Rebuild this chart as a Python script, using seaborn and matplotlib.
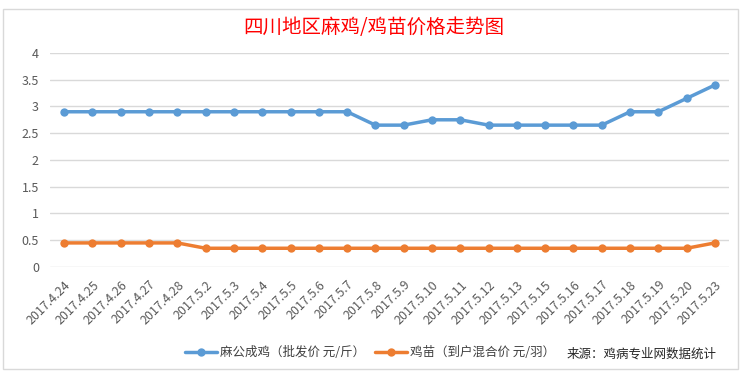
import pandas as pd
import matplotlib
matplotlib.use('Agg')
import matplotlib.pyplot as plt
import seaborn as sns

dates = ['2017.4.24', '2017.4.25', '2017.4.26', '2017.4.27', '2017.4.28',
         '2017.5.2', '2017.5.3', '2017.5.4', '2017.5.5', '2017.5.6', '2017.5.7',
         '2017.5.8', '2017.5.9', '2017.5.10', '2017.5.11', '2017.5.12', '2017.5.13',
         '2017.5.15', '2017.5.16', '2017.5.17', '2017.5.18', '2017.5.19', '2017.5.20',
         '2017.5.23']
chicken = [2.9, 2.9, 2.9, 2.9, 2.9, 2.9, 2.9, 2.9, 2.9, 2.9, 2.9,
           2.65, 2.65, 2.75, 2.75, 2.65, 2.65, 2.65, 2.65, 2.65, 2.9, 2.9, 3.15, 3.4]
chick = [0.45, 0.45, 0.45, 0.45, 0.45, 0.35, 0.35, 0.35, 0.35, 0.35, 0.35,
         0.35, 0.35, 0.35, 0.35, 0.35, 0.35, 0.35, 0.35, 0.35, 0.35, 0.35, 0.35, 0.45]
series_names = ['麻公成鸡（批发价 元/斤）', '鸡苗（到户混合价 元/羽）']
colors = ['#5b9bd5', '#ed7d31']

df = pd.concat([
    pd.DataFrame({'date': dates, 'price': chicken, 'series': series_names[0]}),
    pd.DataFrame({'date': dates, 'price': chick, 'series': series_names[1]}),
])

sns.set_style('white')
plt.rcParams['font.family'] = ['Noto Sans CJK SC', 'DejaVu Sans']

fig = plt.figure(figsize=(7.47, 3.75), dpi=100)
ax = fig.add_axes([0.067, 0.288, 0.909, 0.571])

sns.lineplot(data=df, x='date', y='price', hue='series', palette=colors,
             marker='o', markersize=6, markeredgewidth=0, linewidth=2.5,
             sort=False, ax=ax)

ax.set_ylim(0, 4)
ax.set_xlim(-0.5, len(dates) - 0.5)
ax.set_yticks([0, 0.5, 1, 1.5, 2, 2.5, 3, 3.5, 4])
ax.set_yticklabels(['0', '0.5', '1', '1.5', '2', '2.5', '3', '3.5', '4'])
ax.yaxis.grid(True, color='#d9d9d9', linewidth=1)
ax.set_axisbelow(True)
for s in ax.spines.values():
    s.set_visible(False)
ax.tick_params(axis='both', length=0, labelsize=9, colors='#595959', pad=8)
plt.setp(ax.get_xticklabels(), rotation=45, ha='right', rotation_mode='anchor')
ax.set_xlabel('')
ax.set_ylabel('')

handles, labels = ax.get_legend_handles_labels()
ax.legend(handles, labels, ncol=2, frameon=False, fontsize=9,
          loc='center', bbox_to_anchor=(0.495, 0.06), bbox_transform=fig.transFigure,
          handlelength=2.6, handletextpad=0.2, columnspacing=0.8, labelcolor='#404040')

fig.text(0.5, 0.928, '四川地区麻鸡/鸡苗价格走势图', color='red', fontsize=14,
         ha='center', va='center')
fig.text(0.758, 0.055, '来源：鸡病专业网数据统计', color='#262626', fontsize=9,
         ha='left', va='center')

fig.patches.append(plt.Rectangle((0.004, 0.015), 0.984, 0.96, transform=fig.transFigure,
                                 fill=False, edgecolor='#d9d9d9', linewidth=1))

fig.savefig('out.png', dpi=100, facecolor='white')
